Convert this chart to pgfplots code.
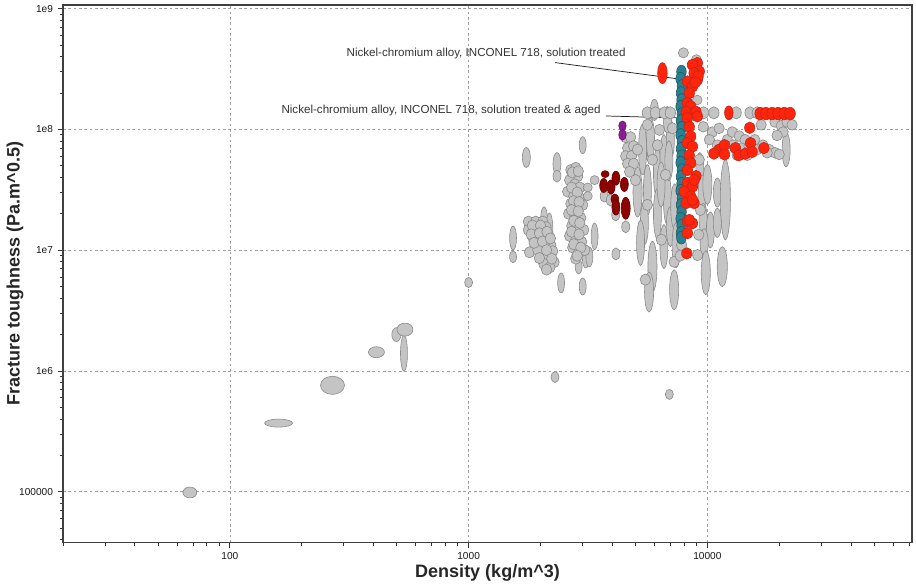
\documentclass[border=0pt]{standalone}
\usepackage{fontspec}
\setmainfont{Liberation Sans}
\usepackage{pgfplots}
\pgfplotsset{compat=1.18}
\definecolor{gfill}{RGB}{196,196,196}
\definecolor{gdraw}{RGB}{138,138,138}
\definecolor{rfill}{RGB}{255,36,10}
\definecolor{rdraw}{RGB}{190,40,30}
\definecolor{tfill}{RGB}{42,128,142}
\definecolor{tdraw}{RGB}{28,92,104}
\definecolor{dfill}{RGB}{140,4,0}
\definecolor{ddraw}{RGB}{105,0,0}
\definecolor{pfill}{RGB}{140,28,150}
\definecolor{pdraw}{RGB}{100,20,110}
\pgfdeclareplotmark{ell}{%
  \pgfpathellipse{\pgfpointorigin}{\pgfqpoint{\ellA pt}{0pt}}{\pgfqpoint{0pt}{\ellB pt}}%
  \pgfusepathqfillstroke}
\pgfplotsset{ellstyle/.style={only marks, mark=ell,
  visualization depends on={value \thisrow{a} \as \ellA},
  visualization depends on={value \thisrow{b} \as \ellB}}}
\begin{document}
\begin{tikzpicture}
\begin{axis}[
  scale only axis, width=636.5pt, height=403pt,
  xmode=log, ymode=log,
  xmin=20, xmax=72000, ymin=38000, ymax=1.07e9,
  axis line style={gray!50!black, line width=0.9pt},
  xtick={100,1000,10000}, xticklabels={100,1000,10000},
  ytick={1e5,1e6,1e7,1e8,1e9}, yticklabels={100000,1e6,1e7,1e8,1e9},
  minor xtick={20,30,40,50,60,70,80,90,200,300,400,500,600,700,800,900,2000,3000,4000,5000,6000,7000,8000,9000,20000,30000,40000,50000,60000,70000},
  minor ytick={40000,50000,60000,70000,80000,90000,200000,300000,400000,500000,600000,700000,800000,900000,2e6,3e6,4e6,5e6,6e6,7e6,8e6,9e6,2e7,3e7,4e7,5e7,6e7,7e7,8e7,9e7,2e8,3e8,4e8,5e8,6e8,7e8,8e8,9e8},
  tick align=outside, tick pos=left,
  major tick length=4pt, minor tick length=2.6pt,
  tick style={gray!40!black, line width=0.6pt},
  grid=major, major grid style={gray!75, dash pattern=on 2pt off 2pt, line width=0.5pt},
  tick label style={font=\fontsize{7.6}{8.5}\selectfont, text=gray!20!black},
  every axis x label/.style={at={([yshift=-23pt]rel axis cs:0.5,0)}, anchor=center},
  every axis y label/.style={at={([xshift=-36pt]rel axis cs:0,0.5)}, anchor=center, rotate=90},
  label style={font=\fontsize{13.5}{15}\selectfont\bfseries, text=black!85},
  xlabel={Density (kg/m\textasciicircum 3)},
  ylabel={Fracture toughness (Pa.m\textasciicircum 0.5)},
  clip=false,
]
\coordinate (bl) at (rel axis cs:0,0);
\coordinate (tr) at (rel axis cs:1,1);
% grey records
\addplot[ellstyle, mark options={fill=gfill, draw=gdraw, line width=0.45pt}] table {
x y a b
68 98600 5.2 4.1
160 370000 10.5 3
269 760000 9 6.8
536 1400000 2.6 13.5
411 1430000 6 4.1
498 2000000 3.4 5.2
541 2200000 6 4.9
1000 5400000 3 3.8
2300 890000 3 4.1
6930 640000 3 3.8
1535 12600000 2.6 9
1535 8800000 2.6 4.5
1745 58500000 3 7.5
2070 17800000 2.6 9.8
2180 14700000 2.6 12.8
2345 52000000 3 8.3
2345 41000000 3 4.5
2440 5350000 2.6 7.5
3005 74000000 2.6 6.4
2890 7300000 2.6 5.3
3005 5000000 2.6 6.4
3100 8300000 2.6 6
3370 13000000 2.6 10
3205 8800000 2.6 7.5
5100 30400000 3.4 19
5430 68000000 3 9
5355 68000000 3 19
5780 82000000 3 16.5
6180 43500000 3 19
5610 31500000 3 19
6580 59500000 3 16.5
7000 82000000 3 15
5450 16800000 3 16.5
6180 20000000 3 19
6805 26100000 3 19
5890 7300000 3.4 19
6580 10700000 3 16.5
7260 4700000 3.4 15
7000 15700000 3 15
5250 11500000 3 17
5700 4500000 3.4 15
6400 35000000 3 17
6900 55000000 3 15
7300 23000000 3 17
7400 11000000 3 17
6000 145000000 3 8
6800 120000000 3 10
9300 45000000 3 14
9500 28000000 3 16
9600 18000000 3 12
10000 35000000 3.4 15
11010 30000000 3 11
11900 26100000 3.8 30
10300 14700000 3 13.5
11010 16800000 3 11
9700 11400000 3 11
11550 7300000 3.8 15
9850 6500000 3.4 16.5
21380 68000000 3 13
1780 17200000 3.9 4.2
1910 17200000 3.9 4.2
2045 17200000 3.9 4.2
1780 14700000 3.9 4.2
1950 14700000 3.9 4.2
2110 15500000 3.9 4.2
1860 12700000 3.9 4.2
2010 12700000 3.9 4.2
2170 13100000 3.9 4.2
1910 10800000 3.9 4.2
2065 10800000 3.9 4.2
2210 11000000 3.9 4.2
2010 9300000 3.9 4.2
2150 8950000 3.9 4.2
2280 7950000 3.9 4.2
2065 7700000 3.9 4.2
2190 7200000 3.9 4.2
1800 9600000 3.9 4.2
1850 16000000 3.9 4.2
2000 16000000 3.9 4.2
2100 12000000 3.9 4.2
1950 10000000 3.9 4.2
2250 9800000 3.9 4.2
1830 13500000 3.9 4.2
1980 13800000 3.9 4.2
2130 14200000 3.9 4.2
1880 11500000 3.9 4.2
2040 11800000 3.9 4.2
2200 12500000 3.9 4.2
1980 8600000 3.9 4.2
2120 10000000 3.9 4.2
2230 8500000 3.9 4.2
2120 6900000 3.9 4.2
2680 46000000 3.9 4.2
2810 48000000 3.9 4.2
2865 41000000 3.9 4.2
2650 38000000 3.9 4.2
2785 35000000 3.9 4.2
2920 33000000 3.9 4.2
2600 30500000 3.9 4.2
2755 28000000 3.9 4.2
2920 27000000 3.9 4.2
2680 24200000 3.9 4.2
2835 22800000 3.9 4.2
3005 23700000 3.9 4.2
2625 20000000 3.9 4.2
2785 19200000 3.9 4.2
2950 18500000 3.9 4.2
2705 15900000 3.9 4.2
2865 15300000 3.9 4.2
3035 14700000 3.9 4.2
2650 13100000 3.9 4.2
2810 12200000 3.9 4.2
2975 11700000 3.9 4.2
2730 10500000 3.9 4.2
2890 9600000 3.9 4.2
3065 10000000 3.9 4.2
2810 8500000 3.9 4.2
2720 44000000 3.9 4.2
2880 45000000 3.9 4.2
2700 33000000 3.9 4.2
2850 30000000 3.9 4.2
2750 25500000 3.9 4.2
2900 25000000 3.9 4.2
2700 21500000 3.9 4.2
2880 21000000 3.9 4.2
2760 17500000 3.9 4.2
2920 16800000 3.9 4.2
2700 14200000 3.9 4.2
2900 13500000 3.9 4.2
2760 11200000 3.9 4.2
2950 10500000 3.9 4.2
2850 9000000 3.9 4.2
3370 38000000 3.4 3.4
3155 33000000 3.4 3.4
3155 28000000 3.4 3.4
4140 9300000 3 4.5
4550 15600000 3 4.5
3700 28000000 3 4.5
3925 26000000 3 4.5
4130 19600000 3 4.5
4550 86000000 3.9 4.2
4770 86000000 3.9 4.2
4635 70000000 3.9 4.2
4910 72500000 3.9 4.2
4550 60000000 3.9 4.2
4815 60000000 3.9 4.2
4635 52000000 3.9 4.2
4910 52000000 3.9 4.2
5100 68000000 3.9 4.2
4725 44500000 3.9 4.2
5000 38000000 3.9 4.2
5610 137000000 3.9 4.6
6060 137000000 3.9 4.6
6610 137000000 3.9 4.6
7000 137000000 3.9 4.6
5610 109000000 3.9 4.2
6300 99000000 3.9 4.2
7140 102000000 3.9 4.2
5890 56000000 3.9 4.2
6680 42000000 3.9 4.2
5610 23700000 3.9 4.2
6420 12200000 3.9 4.2
7260 8000000 3.9 4.2
5500 5700000 3.9 4.2
6180 74000000 3.9 4.2
9080 175000000 3.6 3.6
7940 430000000 3.8 3.8
9000 377000000 3.8 3.8
9640 137000000 3.9 4.6
10650 137000000 3.9 4.6
13200 137000000 3.9 4.6
15100 137000000 3.9 4.6
16200 137000000 3.9 4.6
9620 105000000 3.9 4
10490 95000000 3.9 4
11200 102000000 3.9 4
10200 82000000 3.9 4
11010 74000000 3.9 4
12120 82000000 3.9 4
12720 95000000 3.9 4
13600 88000000 3.9 4
14400 82000000 3.9 4
12850 74000000 3.9 4
13860 70000000 3.9 4
14950 72500000 3.9 4
15800 82000000 3.9 4
11450 68000000 3.9 4
16170 68000000 3.9 4
17100 74000000 3.9 4
18150 68000000 3.9 4
14690 61000000 3.9 4
13340 61000000 3.9 4
19200 64000000 3.9 4
20000 62000000 3.9 4
17800 64000000 3.9 4
19200 115000000 3.9 4
20400 107000000 3.9 4
21580 115000000 3.9 4
20770 95000000 3.9 4
19600 89000000 3.9 4
16800 109000000 3.9 4
22640 109000000 3.9 4
9250 56000000 3.9 4.2
9350 21500000 3.9 4.2
9200 13400000 3.9 4.2
9100 9100000 3.9 4.2
7800 11000000 3.9 4.2
7700 9000000 3.9 4.2
};
% dark red
\addplot[ellstyle, mark options={fill=dfill, draw=ddraw, line width=0.45pt}] table {
x y a b
3730 42600000 3 2.6
3680 34300000 3 5.3
3950 33300000 3 5.3
4140 39400000 3 5.3
4490 35000000 3 5.3
4100 26500000 3 3.8
4140 22700000 3 6
4550 22200000 3.4 8.3
};
% purple
\addplot[ellstyle, mark options={fill=pfill, draw=pdraw, line width=0.45pt}] table {
x y a b
4410 107000000 2.8 3.6
4410 90000000 2.8 4
};
% teal: solution treated & aged
\addplot[ellstyle, mark options={fill=tfill, draw=tdraw, line width=0.45pt}] table {
x y a b
7790 300000000 3.6 4.8
7730 262000000 3.6 4.8
7830 229000000 3.6 4.8
7760 200000000 3.6 4.8
7800 175000000 3.6 4.8
7730 154000000 3.6 4.8
7830 134000000 3.6 4.8
7760 118000000 3.6 4.8
7800 103000000 3.6 4.8
7730 90000000 3.6 4.8
7830 79000000 3.6 4.8
7760 69000000 3.6 4.8
7800 60000000 3.6 4.8
7730 53000000 3.6 4.8
7830 46000000 3.6 4.8
7760 40500000 3.6 4.8
7800 35500000 3.6 4.8
7730 31000000 3.6 4.8
7830 27000000 3.6 4.8
7760 23700000 3.6 4.8
7800 20700000 3.6 4.8
7730 18200000 3.6 4.8
7800 16000000 3.6 4.8
7760 13900000 3.6 4.8
7780 12700000 3.6 4.8
};
% red
\addplot[ellstyle, mark options={fill=rfill, draw=rdraw, line width=0.45pt}] table {
x y a b
6485 292000000 3.6 7.9
9080 354000000 3.9 4.3
8660 342000000 3.9 4.3
9250 302000000 3.9 4.3
8800 292000000 3.9 4.3
9080 257000000 3.9 4.3
8250 249000000 3.9 4.3
8660 226000000 3.9 4.3
8400 199000000 3.9 4.3
8250 165000000 3.9 4.3
8520 155000000 3.9 4.3
8150 140000000 3.9 4.3
8960 140000000 3.9 4.3
8250 124000000 3.9 4.3
9080 128000000 3.9 4.3
8400 105000000 3.9 4.3
8520 87500000 3.9 4.3
8250 77000000 3.9 4.3
8660 72000000 3.9 4.3
8400 61000000 3.9 4.3
8520 52500000 3.9 4.3
8250 46000000 3.9 4.3
8960 41000000 3.9 4.3
8250 36000000 3.9 4.3
8660 33500000 3.9 4.3
8000 30500000 3.9 4.3
8520 27800000 3.9 4.3
8150 24500000 3.9 4.3
8800 24500000 3.9 4.3
8250 17300000 3.9 4.3
8660 16700000 3.9 4.3
8250 13800000 3.9 4.3
8200 9400000 3.9 4.3
9150 275000000 3.9 4.3
8900 245000000 3.9 4.3
8800 38000000 3.9 4.3
8660 26100000 3.9 4.3
8400 17800000 3.9 4.3
12300 137000000 3.2 5.2
16650 135000000 4 4.7
17600 135000000 4 4.7
18680 135000000 4 4.7
19800 135000000 4 4.7
21000 135000000 4 4.7
22200 135000000 4 4.7
15050 103000000 3.9 4.3
11200 68000000 3.9 4.3
11800 74000000 3.9 4.3
11800 62000000 3.9 4.3
13100 70000000 3.9 4.3
13550 61000000 3.9 4.3
14450 63000000 3.9 4.3
15170 77000000 3.9 4.3
15410 65000000 3.9 4.3
17250 70000000 3.9 4.3
10650 63000000 3.9 4.3
};
\draw[gray!25!black, line width=0.55pt] (axis cs:2300,3.57e8) -- (axis cs:7740,2.6e8);
\draw[gray!25!black, line width=0.55pt] (axis cs:3760,1.29e8) -- (axis cs:7900,1.24e8);
\node[anchor=east, inner sep=0pt, font=\fontsize{8.7}{10}\selectfont, text=black!80] at (axis cs:4560,4.22e8) {Nickel-chromium alloy, INCONEL 718, solution treated};
\node[anchor=east, inner sep=0pt, font=\fontsize{8.7}{10}\selectfont, text=black!80] at (axis cs:3580,1.42e8) {Nickel-chromium alloy, INCONEL 718, solution treated \& aged};
\end{axis}
\pgfresetboundingbox
\useasboundingbox ([shift={(-47.25pt,-31.5pt)}]bl) rectangle ([shift={(3pt,3.75pt)}]tr);
\end{tikzpicture}
\end{document}
